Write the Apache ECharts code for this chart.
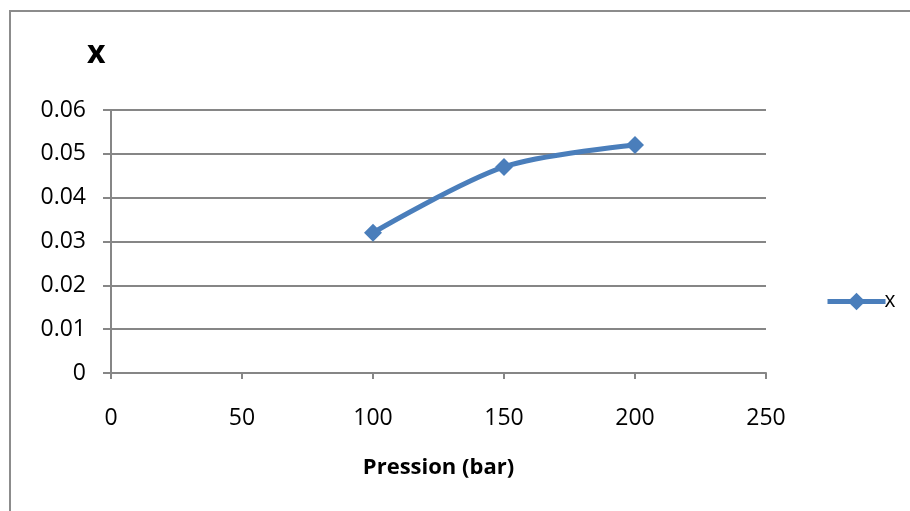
<!DOCTYPE html>
<html><head><meta charset="utf-8">
<script src="https://cdn.jsdelivr.net/npm/echarts@6/dist/echarts.min.js"></script>
<style>html,body{margin:0;padding:0;background:#fff}#c{width:910px;height:511px}</style>
</head><body><div id="c"></div>
<script>
const pressures = [100, 150, 200];
const xValues = [0.032, 0.047, 0.052];
const seriesName = 'x';
const xAxisTitle = 'Pression (bar)';
const yAxisTitle = 'x';

const FONT = '"Open Sans", "Liberation Sans", sans-serif';
const GRAY = '#868686';
const BLUE = '#4A7EBB';
const chart = echarts.init(document.getElementById('c'));
chart.setOption({
  animation: false,
  backgroundColor: '#fff',
  graphic: [{
    type: 'rect', shape: {x: 10, y: 11, width: 1000, height: 1000},
    style: {fill: 'none', stroke: '#8c8c8c', lineWidth: 2}, silent: true
  }],
  title: {
    text: yAxisTitle, left: 82, top: 33,
    textStyle: {fontFamily: FONT, fontWeight: 'bold', fontSize: 32, color: '#000'}
  },
  legend: {
    data: [seriesName], left: 820, top: 286, itemWidth: 58, itemHeight: 22, itemGap: 2,
    lineStyle: {width: 5, color: BLUE},
    textStyle: {fontFamily: FONT, fontSize: 21, color: '#000', padding: [0,0,0,-6]}
  },
  grid: {left: 111, right: 144, top: 110, bottom: 138},
  xAxis: {
    type: 'value', min: 0, max: 250, interval: 50,
    name: xAxisTitle, nameLocation: 'middle', nameGap: 84,
    nameTextStyle: {fontFamily: FONT, fontWeight: 'bold', fontSize: 22, color: '#000'},
    axisLine: {show: true, onZero: false, lineStyle: {color: GRAY, width: 2}},
    axisTick: {show: true, length: 6, lineStyle: {color: GRAY, width: 2}},
    axisLabel: {fontFamily: FONT, fontSize: 23, color: '#000', margin: 34},
    splitLine: {show: false}
  },
  yAxis: {
    type: 'value', min: 0, max: 0.06, interval: 0.01,
    axisLine: {show: true, lineStyle: {color: GRAY, width: 2}},
    axisTick: {show: true, length: 8, lineStyle: {color: GRAY, width: 2}},
    axisLabel: {fontFamily: FONT, fontSize: 23, color: '#000', margin: 25},
    splitLine: {show: true, lineStyle: {color: GRAY, width: 2}}
  },
  series: [{
    name: seriesName, type: 'line', smooth: 0.3,
    data: pressures.map((p, i) => [p, xValues[i]]),
    symbol: 'diamond', symbolSize: 18,
    lineStyle: {color: BLUE, width: 5},
    itemStyle: {color: BLUE}
  }]
});
</script></body></html>
